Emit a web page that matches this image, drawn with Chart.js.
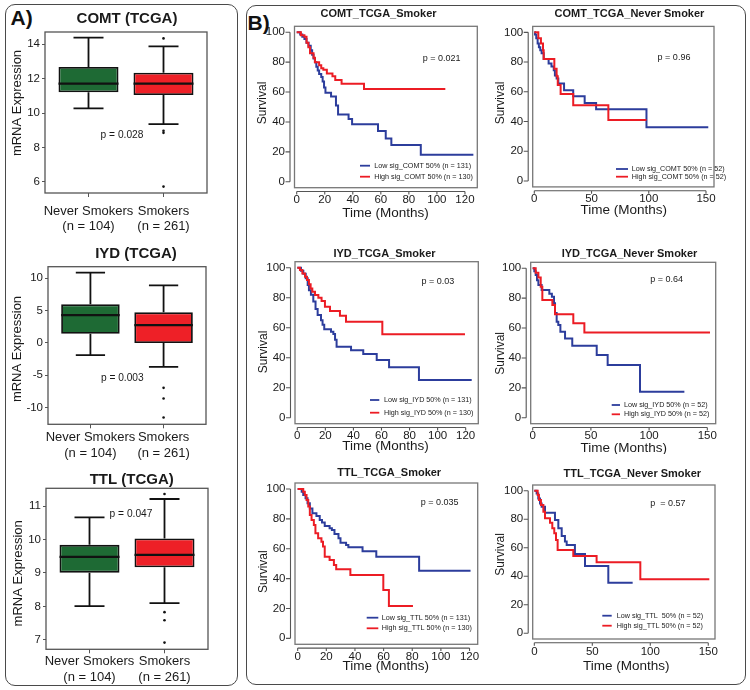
<!DOCTYPE html>
<html><head><meta charset="utf-8">
<script src="https://cdn.jsdelivr.net/npm/chart.js@4.4.1/dist/chart.umd.min.js"></script>
<style>
html,body{margin:0;padding:0;background:#fff;}
body{width:750px;height:690px;position:relative;overflow:hidden;font-family:"Liberation Sans",Arial,sans-serif;}
.panel{position:absolute;border:1.5px solid #4a4a4a;border-radius:10px;box-sizing:border-box;}
.lbl{position:absolute;font-weight:bold;font-size:21px;color:#111;line-height:21px;}
canvas{position:absolute;}
</style></head><body>
<div class="panel" style="left:5px;top:4px;width:233px;height:682px"></div>
<div class="panel" style="left:246px;top:5px;width:500px;height:680px"></div>
<div class="lbl" style="left:10.5px;top:7px">A)</div>
<div class="lbl" style="left:247.5px;top:11.5px">B)</div>
<script>
const FONT = "'Liberation Sans', Arial, Helvetica, sans-serif";
const TXT = '#1a1a1a';
const BLUE = '#2c3d9c', RED = '#ec1c24', GREEN = '#1e6a34', BOXRED = '#ee2027';

// ---------------- Box plot data: [lower whisker, Q1, median, Q3, upper whisker]
const boxGroups = [['Never Smokers', '(n = 104)'], ['Smokers', '(n = 261)']];
const comtNever = [10.27, 11.2, 11.7, 12.67, 14.37];
const comtSmoker = [9.36, 11.04, 11.7, 12.34, 13.87];
const comtSmokerOut = [14.33, 8.97, 8.85, 5.73];
const comtTicks = [6, 8, 10, 12, 14];

const iydNever = [-1.89, 1.41, 4.31, 5.97, 10.87];
const iydSmoker = [-3.7, -0.03, 2.76, 4.73, 8.91];
const iydSmokerOut = [-6.96, -8.6, -11.55];
const iydTicks = [-10, -5, 0, 5, 10];

const ttlNever = [8.01, 9.01, 9.48, 9.84, 10.66];
const ttlSmoker = [8.10, 9.17, 9.54, 10.03, 11.21];
const ttlSmokerOut = [11.36, 7.83, 7.59, 6.92];
const ttlTicks = [7, 8, 9, 10, 11];

// ---------------- Kaplan-Meier data: [months, survival %]
const kmTicksY = [0, 20, 40, 60, 80, 100];
const smokerTicksX = [0, 20, 40, 60, 80, 100, 120];
const neverTicksX = [0, 50, 100, 150];

const comtSmokerLow = [[0,100],[2.5,98.5],[4,97],[5.5,95.5],[7,93],[8.5,91],[10,88],[11,85],[12,82.5],[13,80],[14,77],[15,74.5],[16,72],[17.5,70],[18.5,67],[19.5,63],[20.5,59.5],[24.5,57],[28,51],[29.5,45],[37,42],[39.5,38.5],[58,34],[63.5,29],[67.5,24.5],[88.5,18],[126,18]];
const comtSmokerHigh = [[0,100],[3,98],[5.5,97],[7,93],[8.3,90],[9.5,86],[12,83],[13,80],[16,78],[17.5,76],[19,75],[21.5,72.5],[25.5,70.5],[27.5,68],[32,65.5],[48,62],[106,62]];
const comtSmokerLegend = ['Low sig_COMT 50% (n = 131)', 'High sig_COMT 50% (n = 130)'];

const comtNeverLow = [[0,100],[0.6,98.5],[1.7,96],[2.9,92.5],[4,90],[5.2,88],[6.4,86],[8.2,82],[12.5,79],[15,77],[17,74.5],[18,71],[19.5,69],[21,65.5],[26,61],[34,57],[44,52.5],[54,48.3],[98,36.2],[152,36.2]];
const comtNeverHigh = [[0,100],[3.5,96],[5.8,92.5],[7.6,88],[8.2,82],[17.5,75.5],[19.5,70.5],[20.5,64.5],[23,58.5],[34,51],[64.7,41],[98,41]];
const comtNeverLegend = ['Low sig_COMT 50% (n = 52)', 'High sig_COMT 50% (n = 52)'];

const iydSmokerLow = [[0,100],[2.6,98],[4.3,96],[6,93],[7.4,88.5],[8.3,85],[9.7,82],[11.4,77.5],[13,72.5],[14.5,68.5],[16.9,65],[18,62],[19.2,59],[24,57.3],[25.7,55.8],[26.9,52],[28,47.3],[38.3,45],[47,42.4],[56.6,38.4],[65.4,33.6],[86.7,25.1],[124.3,25.1]];
const iydSmokerHigh = [[0,100],[1.9,98.4],[3.6,96.2],[5.5,94],[6.9,91.8],[8.3,89],[9.5,86.2],[10.7,84],[12.6,81.8],[15,80],[17.3,77.8],[19.7,74],[23.3,71.1],[30.4,68],[34.7,64],[60.6,55.6],[119.5,55.6]];
const iydSmokerLegend = ['Low sig_IYD 50% (n = 131)', 'High sig_IYD 50% (n = 130)'];

const iydNeverLow = [[0,100],[1.4,98],[2.6,95.5],[3.7,92],[4.9,88.8],[7.7,85.5],[14.3,83],[16.5,81],[18.3,76.6],[19.2,70],[20.6,64.3],[22,62],[23.8,57.6],[27.8,53],[34,48.2],[55,42],[64.4,35.3],[92.2,17.4],[130.3,17.4]];
const iydNeverHigh = [[0,100],[2.6,97],[4.9,93.8],[6.9,87.7],[8.3,78.8],[16.9,75.4],[19.2,69.2],[34.9,63.2],[44.4,57.1],[152.3,57.1]];
const iydNeverLegend = ['Low sig_IYD 50% (n = 52)', 'High sig_IYD 50% (n = 52)'];

const ttlSmokerLow = [[0,100],[2.8,98.2],[3.9,96],[5.5,93.8],[6.9,90.4],[8.5,87],[10.3,83.7],[13.1,81.9],[15.4,79.2],[17,77.5],[18.9,75.2],[22.3,73.7],[23.9,72.5],[25.7,69.9],[28.5,67],[29.9,64],[33.8,62.5],[35.4,61],[45.3,58.3],[54.9,54.7],[84.8,45.3],[120.7,45.3]];
const ttlSmokerHigh = [[0,100],[3.9,98.2],[5,96],[6.2,92.6],[7.4,88.2],[8.5,82.6],[9.7,79.2],[11.3,75.9],[12.4,70.3],[14.3,67],[16.6,64.7],[17.7,61.4],[18.9,54.7],[22.3,52.5],[25.3,49.1],[26.9,46.2],[36.8,42.4],[59.8,32.4],[63.7,21.7],[80.5,21.7]];
const ttlSmokerLegend = ['Low sig_TTL 50% (n = 131)', 'High sig_TTL 50% (n = 130)'];

const ttlNeverLow = [[0,100],[2,98],[3.4,94.6],[4.9,91],[6.3,88.8],[9.2,84.6],[17.8,79.4],[20.7,73.6],[23.6,68.2],[26.4,64.3],[27.9,62],[35,55.6],[43.7,47.2],[63.8,35.5],[84.8,35.5]];
const ttlNeverHigh = [[0,100],[2.9,97],[4,93.5],[5.7,90],[7.8,85.3],[9.2,80.6],[13.5,77.6],[15.5,73.6],[17.2,70.1],[18.7,65.4],[20.1,58.4],[33.6,54.2],[53.7,49.8],[91.4,37.9],[150.9,37.9]];
const ttlNeverLegend = ['Low sig_TTL  50% (n = 52)', 'High sig_TTL 50% (n = 52)'];

// ---------------- helpers
function place(id, r) {
  const c = document.createElement('canvas');
  c.id = id; c.width = r.w; c.height = r.h;
  c.style.left = r.l + 'px'; c.style.top = r.t + 'px';
  c.style.width = r.w + 'px'; c.style.height = r.h + 'px';
  document.body.appendChild(c);
  return c;
}
function extras(r, cfg) {
  return {
    id: 'extras',
    afterDraw(chart) {
      const ctx = chart.ctx, a = chart.chartArea;
      ctx.save();
      ctx.strokeStyle = cfg.frame; ctx.lineWidth = cfg.frameWidth;
      ctx.strokeRect(a.left, a.top, a.right - a.left, a.bottom - a.top);
      if (cfg.axes) {
        const xs = chart.scales.x, ys = chart.scales.y, A = cfg.axes;
        const ax = a.left - A.gapY, ay = a.bottom + A.gapX;
        const yv = ys.ticks.map(t => ys.getPixelForValue(t.value));
        const xv = xs.ticks.map(t => xs.getPixelForValue(t.value));
        ctx.strokeStyle = A.color; ctx.lineWidth = 1.1;
        ctx.beginPath();
        ctx.moveTo(ax, Math.max(...yv)); ctx.lineTo(ax, Math.min(...yv));
        yv.forEach(py => { ctx.moveTo(ax, py); ctx.lineTo(ax - A.tickY, py); });
        ctx.moveTo(Math.min(...xv), ay); ctx.lineTo(Math.max(...xv), ay);
        xv.forEach(px => { ctx.moveTo(px, ay); ctx.lineTo(px, ay + A.tickX); });
        ctx.stroke();
      }
      for (const t of cfg.texts) {
        ctx.save();
        ctx.font = (t.bold ? 'bold ' : '') + t.size + 'px ' + FONT;
        ctx.fillStyle = TXT; ctx.textAlign = 'center'; ctx.textBaseline = 'middle';
        ctx.translate(t.x - r.l, t.y - r.t);
        if (t.rot) ctx.rotate(-Math.PI / 2);
        ctx.fillText(t.text, 0, 0);
        ctx.restore();
      }
      if (cfg.legend) {
        const L = cfg.legend;
        L.items.forEach(it => {
          const y = it.y - r.t;
          ctx.strokeStyle = it.color; ctx.lineWidth = 1.8;
          ctx.beginPath(); ctx.moveTo(L.x0 - r.l, y); ctx.lineTo(L.x1 - r.l, y); ctx.stroke();
          ctx.font = L.size + 'px ' + FONT; ctx.fillStyle = TXT;
          ctx.textAlign = 'left'; ctx.textBaseline = 'middle';
          ctx.fillText(it.label, L.tx - r.l, y);
        });
      }
      ctx.restore();
    }
  };
}
function baseOpts(r, a) {
  return {
    responsive: false, animation: false, events: [],
    layout: { padding: { top: a.t - r.t, right: r.l + r.w - a.r, left: 0, bottom: 0 } },
    plugins: { legend: { display: false }, tooltip: { enabled: false }, title: { display: false } }
  };
}

// ---------------- Box plots
const BOXP = 0.8, CAPH = 0.2;
const gap = () => ({ x: NaN, y: NaN });
function boxChart(id, p) {
  const r = p.rect, a = p.area;
  const groups = [p.never, p.smoker], pos = [1, 2];
  const boxes = groups.map((g, i) => ({ x: pos[i], y: [g[1], g[3]] }));
  const med = [], whisk = [], caps = [];
  groups.forEach((g, i) => {
    const x = pos[i];
    med.push({ x: x - BOXP / 2, y: g[2] }, { x: x + BOXP / 2, y: g[2] }, gap());
    whisk.push({ x, y: g[3] }, { x, y: g[4] }, gap(), { x, y: g[1] }, { x, y: g[0] }, gap());
    caps.push({ x: x - CAPH, y: g[4] }, { x: x + CAPH, y: g[4] }, gap(), { x: x - CAPH, y: g[0] }, { x: x + CAPH, y: g[0] }, gap());
  });
  const outl = p.outliers.map(v => ({ x: 2, y: v }));
  const lineDs = (data, w) => ({ type: 'line', data, borderColor: '#111', borderWidth: w, pointRadius: 0, spanGaps: false, tension: 0 });
  const opts = baseOpts(r, a);
  opts.scales = {
    x: {
      type: 'linear', min: 0.42, max: 2.58, offset: false,
      afterBuildTicks: s => { s.ticks = pos.map(v => ({ value: v })); },
      afterFit: s => { s.height = r.t + r.h - a.b; },
      grid: { offset: false, drawOnChartArea: false, tickLength: 4, color: '#555' },
      border: { display: false },
      ticks: { callback: v => boxGroups[v - 1], font: { size: 13, family: FONT, lineHeight: 1.2 }, color: TXT,
               padding: p.xpad, maxRotation: 0, minRotation: 0, autoSkip: false }
    },
    y: {
      type: 'linear', min: p.yr[0], max: p.yr[1],
      afterBuildTicks: s => { s.ticks = p.ticks.map(v => ({ value: v })); },
      afterFit: s => { s.width = a.l - r.l; },
      grid: { drawOnChartArea: false, tickLength: 3, color: '#555' },
      border: { display: false },
      ticks: { font: { size: 11.5, family: FONT }, color: TXT, padding: 2, autoSkip: false }
    }
  };
  new Chart(place(id, r), {
    type: 'bar',
    data: { datasets: [
      lineDs(med, 2.2),
      { type: 'bar', data: boxes, backgroundColor: [GREEN, BOXRED], borderColor: '#111', borderWidth: 1.8,
        borderSkipped: false, categoryPercentage: 1, barPercentage: BOXP },
      lineDs(whisk, 1.8),
      lineDs(caps, 1.8),
      { type: 'scatter', data: outl, pointRadius: 1.3, pointBackgroundColor: '#111', pointBorderWidth: 0, showLine: false }
    ] },
    options: opts,
    plugins: [extras(r, { frame: '#555', frameWidth: 1.3, texts: p.texts })]
  });
}

boxChart('b1', {
  rect: { l: 8, t: 6, w: 226, h: 230 }, area: { l: 45, t: 32, r: 207, b: 193 },
  never: comtNever, smoker: comtSmoker, outliers: comtSmokerOut, ticks: comtTicks,
  yr: [5.36, 14.7], xpad: 6.2,
  texts: [
    { text: 'COMT (TCGA)', x: 127, y: 19, size: 15, bold: true },
    { text: 'mRNA Expression', x: 17.5, y: 103, size: 13, rot: true },
    { text: 'p = 0.028', x: 122, y: 135, size: 10.2 }
  ]
});
boxChart('b2', {
  rect: { l: 8, t: 236, w: 226, h: 224 }, area: { l: 48, t: 266.7, r: 206, b: 424.3 },
  never: iydNever, smoker: iydSmoker, outliers: iydSmokerOut, ticks: iydTicks,
  yr: [-12.6, 11.8], xpad: 1.6,
  texts: [
    { text: 'IYD (TCGA)', x: 136, y: 254.3, size: 15, bold: true },
    { text: 'mRNA Expression', x: 17.3, y: 349, size: 13, rot: true },
    { text: 'p = 0.003', x: 122.3, y: 378.3, size: 10.2 }
  ]
});
boxChart('b3', {
  rect: { l: 8, t: 462, w: 226, h: 224 }, area: { l: 46, t: 488.3, r: 208, b: 649.3 },
  never: ttlNever, smoker: ttlSmoker, outliers: ttlSmokerOut, ticks: ttlTicks,
  yr: [6.72, 11.53], xpad: 0.6,
  texts: [
    { text: 'TTL (TCGA)', x: 131.7, y: 480, size: 15, bold: true },
    { text: 'mRNA Expression', x: 18.3, y: 573.3, size: 13, rot: true },
    { text: 'p = 0.047', x: 131, y: 514.3, size: 10.2 }
  ]
});

// ---------------- KM plots
const AXES = { gapY: 4.5, tickY: 4.5, gapX: 3.8, tickX: 3, color: '#555' };
function kmChart(id, p) {
  const r = p.rect, a = p.area;
  const xy = arr => arr.map(d => ({ x: d[0], y: d[1] }));
  const ds = (label, data, color) => ({ label, data: xy(data), borderColor: color, borderWidth: 2, pointRadius: 0, stepped: true, tension: 0 });
  const opts = baseOpts(r, a);
  opts.scales = {
    x: {
      type: 'linear', min: p.xr[0], max: p.xr[1],
      afterBuildTicks: s => { s.ticks = p.xt.map(v => ({ value: v })); },
      afterFit: s => { s.height = r.t + r.h - a.b; },
      grid: { display: false, drawTicks: false },
      border: { display: false },
      ticks: { font: { size: 11.5, family: FONT, lineHeight: 1 }, color: TXT, padding: 6.6, maxRotation: 0, autoSkip: false }
    },
    y: {
      type: 'linear', min: -4, max: 104,
      afterBuildTicks: s => { s.ticks = kmTicksY.map(v => ({ value: v })); },
      afterFit: s => { s.width = a.l - r.l; },
      grid: { display: false, drawTicks: false },
      border: { display: false },
      ticks: { font: { size: 11.5, family: FONT }, color: TXT, padding: AXES.gapY + AXES.tickY + 0.5, autoSkip: false }
    }
  };
  new Chart(place(id, r), {
    type: 'line',
    data: { datasets: [ ds(p.legend[1], p.high, RED), ds(p.legend[0], p.low, BLUE) ] },
    options: opts,
    plugins: [extras(r, {
      frame: '#777', frameWidth: 1.3,
      axes: AXES,
      texts: [
        { text: p.title, x: p.tp[0], y: p.tp[1], size: 11, bold: true },
        { text: 'Survival', x: p.sp[0], y: p.sp[1], size: 12, rot: true },
        { text: 'Time (Months)', x: p.mp[0], y: p.mp[1], size: 13.5 },
        { text: p.p, x: p.pp[0], y: p.pp[1], size: 9 }
      ],
      legend: { x0: p.lg.x0, x1: p.lg.x1, tx: p.lg.tx, size: 7.2, items: [
        { label: p.legend[0], color: BLUE, y: p.lg.ys[0] },
        { label: p.legend[1], color: RED, y: p.lg.ys[1] }
      ] }
    })]
  });
}

kmChart('k1', {
  rect: { l: 250, t: 4, w: 236, h: 224 }, area: { l: 294.5, t: 26.3, r: 477.3, b: 187.7 },
  xr: [-1.57, 128.8], xt: smokerTicksX,
  low: comtSmokerLow, high: comtSmokerHigh, legend: comtSmokerLegend,
  title: 'COMT_TCGA_Smoker', tp: [378.5, 14], sp: [263, 103], mp: [385.5, 213],
  p: 'p = 0.021', pp: [441.7, 58.3], lg: { x0: 360, x1: 370, tx: 374.3, ys: [165.7, 176.7] }
});
kmChart('k2', {
  rect: { l: 490, t: 4, w: 252, h: 224 }, area: { l: 532.7, t: 26.4, r: 714, b: 186.9 },
  xr: [-1.4, 157], xt: neverTicksX,
  low: comtNeverLow, high: comtNeverHigh, legend: comtNeverLegend,
  title: 'COMT_TCGA_Never Smoker', tp: [629.5, 14], sp: [501, 103], mp: [623.8, 210.7],
  p: 'p = 0.96', pp: [674, 57.3], lg: { x0: 616, x1: 628, tx: 631.7, ys: [169, 176.7] }
});
kmChart('k3', {
  rect: { l: 250, t: 234, w: 236, h: 220 }, area: { l: 295, t: 261.7, r: 478.3, b: 423.7 },
  xr: [-1.64, 129], xt: smokerTicksX,
  low: iydSmokerLow, high: iydSmokerHigh, legend: iydSmokerLegend,
  title: 'IYD_TCGA_Smoker', tp: [384.5, 254.3], sp: [263.3, 352], mp: [385.5, 446],
  p: 'p = 0.03', pp: [437.8, 281.7], lg: { x0: 370, x1: 379.3, tx: 384, ys: [400, 412.7] }
});
kmChart('k4', {
  rect: { l: 490, t: 234, w: 252, h: 220 }, area: { l: 530.7, t: 262.3, r: 715.7, b: 423.7 },
  xr: [-1.7, 157.2], xt: neverTicksX,
  low: iydNeverLow, high: iydNeverHigh, legend: iydNeverLegend,
  title: 'IYD_TCGA_Never Smoker', tp: [629.5, 254.3], sp: [501, 353.3], mp: [623.8, 448.3],
  p: 'p = 0.64', pp: [666.7, 279.3], lg: { x0: 611.7, x1: 620, tx: 624, ys: [405, 414.3] }
});
kmChart('k5', {
  rect: { l: 250, t: 460, w: 236, h: 222 }, area: { l: 295, t: 483, r: 480, b: 644.3 },
  xr: [-1.86, 125.7], xt: smokerTicksX,
  low: ttlSmokerLow, high: ttlSmokerHigh, legend: ttlSmokerLegend,
  title: 'TTL_TCGA_Smoker', tp: [389.2, 473.3], sp: [263.3, 571.7], mp: [385.8, 666.7],
  p: 'p = 0.035', pp: [439.7, 502.3], lg: { x0: 366.7, x1: 378.3, tx: 381.7, ys: [617.7, 628.3] }
});
kmChart('k6', {
  rect: { l: 490, t: 460, w: 252, h: 222 }, area: { l: 532.7, t: 485, r: 715, b: 639 },
  xr: [-1.4, 155.8], xt: neverTicksX,
  low: ttlNeverLow, high: ttlNeverHigh, legend: ttlNeverLegend,
  title: 'TTL_TCGA_Never Smoker', tp: [632.3, 474], sp: [501, 554.5], mp: [626.3, 666.7],
  p: 'p  = 0.57', pp: [667.8, 504], lg: { x0: 602.3, x1: 611.7, tx: 616.7, ys: [615.7, 625.7] }
});
</script>
</body></html>
